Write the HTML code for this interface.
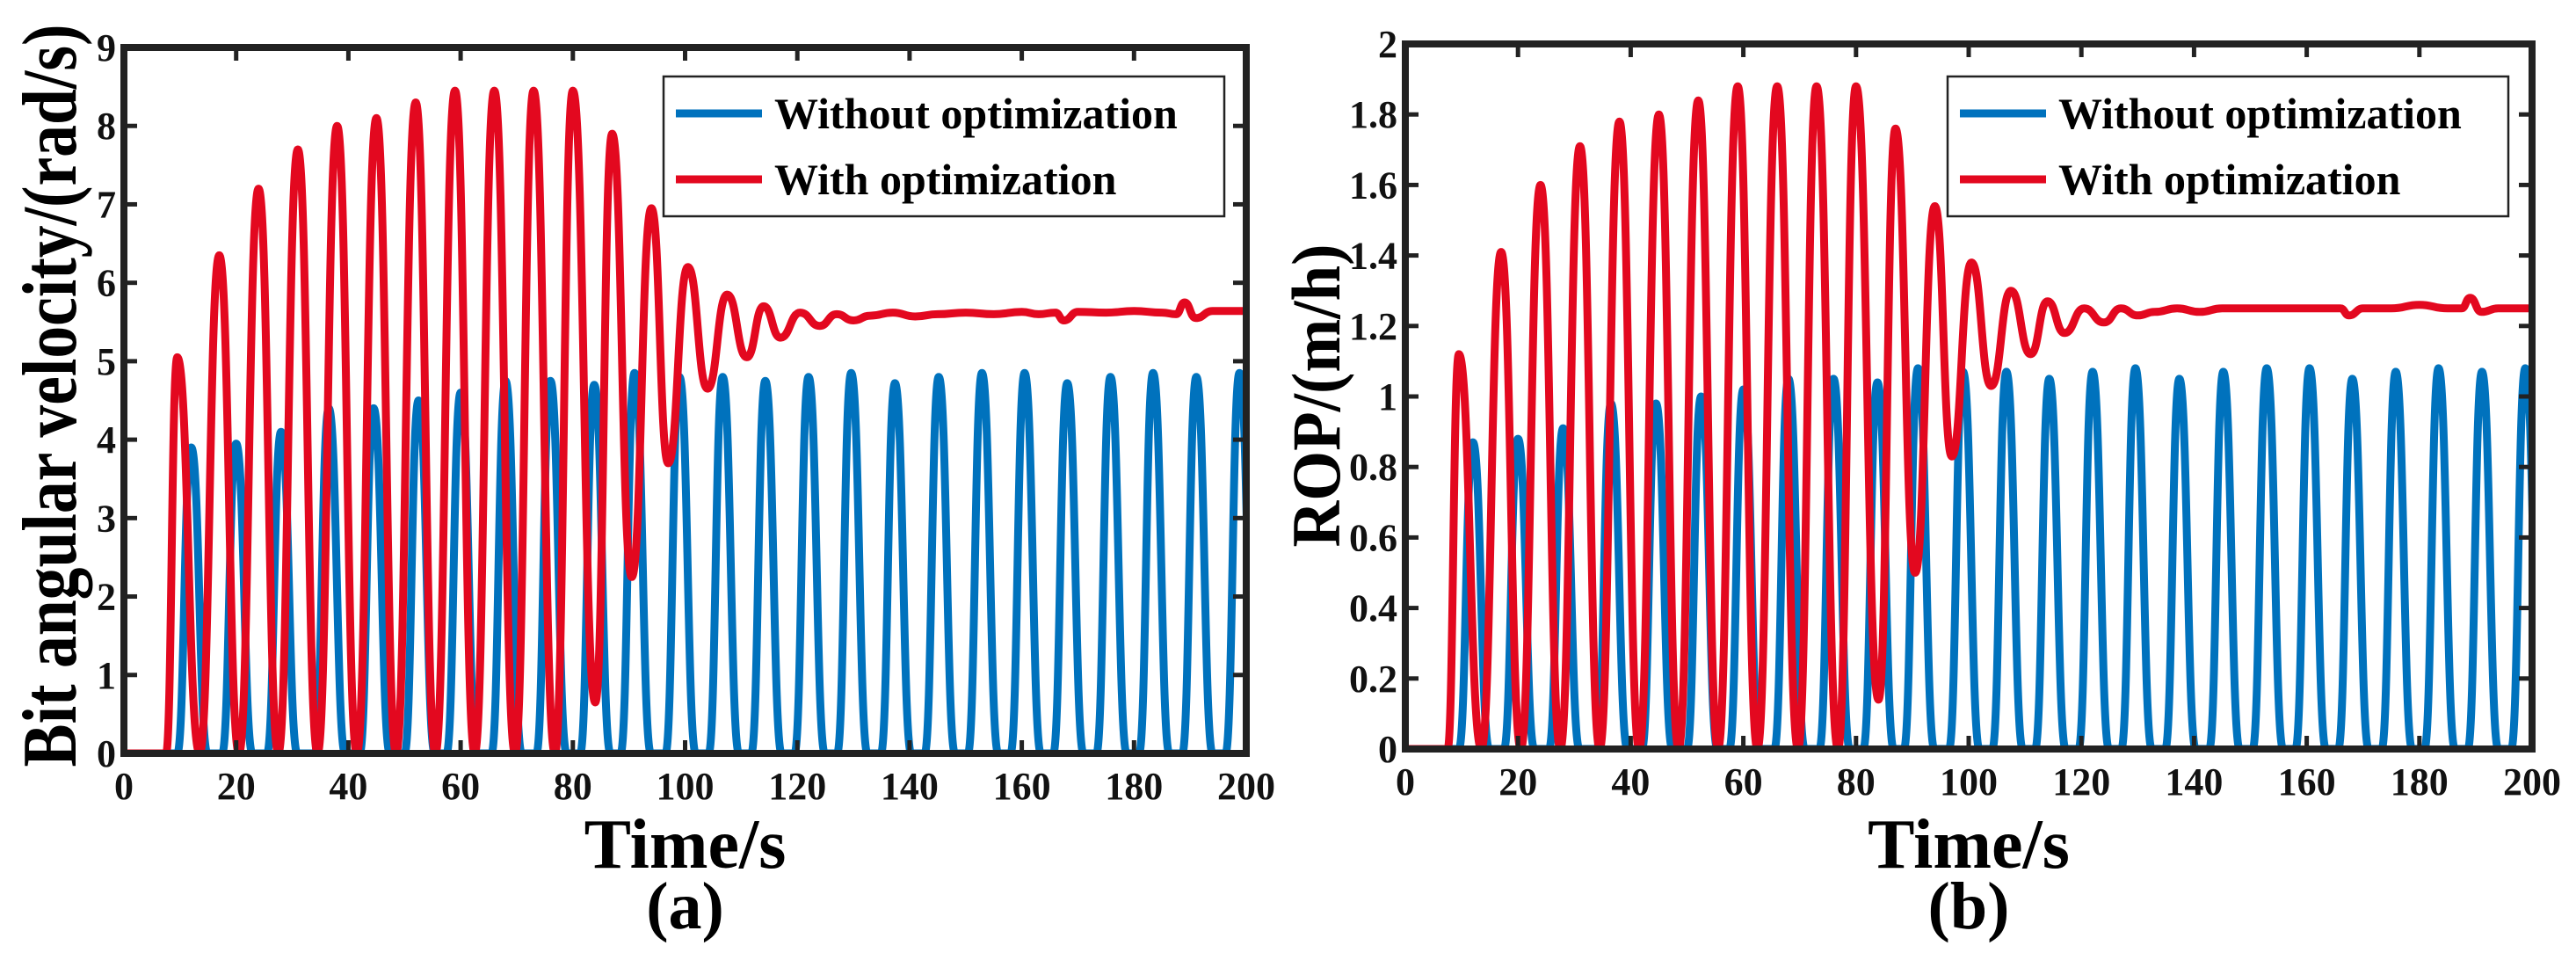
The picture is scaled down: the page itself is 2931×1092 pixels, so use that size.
<!DOCTYPE html>
<html><head><meta charset="utf-8"><style>
html,body{margin:0;padding:0;background:#fff;}
svg{display:block;font-family:"Liberation Serif",serif;font-weight:bold;}
</style></head><body>
<svg id="fig" width="2931" height="1092" viewBox="0 0 2931 1092" xmlns="http://www.w3.org/2000/svg"></svg>
<script>
// ---- data: panel (a) bit angular velocity ----
const aRedT = [0,7.5,9.5,13.5,17,20.5,24,27.5,31,34.5,38,41.5,45,48.5,52,55.5,59,62.5,66,69.7,73,76.8,80,84,87,90.5,94,97,100.5,104,107.5,111,114,117,120.5,124,127,130,133,137,141,145,150,155,160,163,166,167.5,170,175,180,185,187.5,189,191,194,200];
const aRedV = [0,0,5.05,0,6.35,0,7.2,0,7.7,0,8.0,0,8.1,0,8.3,0,8.45,0,8.45,0,8.45,0,8.45,0.65,7.9,2.25,6.95,3.7,6.2,4.65,5.85,5.05,5.7,5.3,5.62,5.45,5.6,5.52,5.58,5.62,5.57,5.6,5.62,5.6,5.63,5.6,5.62,5.52,5.63,5.62,5.64,5.62,5.6,5.75,5.55,5.64,5.64];
const blueT = [12,20,28,36.5,44.5,52.5,60,68,76,83.8,91,99,106.7,114.3,122,129.6,137.4,145.2,152.9,160.5,168.1,175.8,183.4,191.1,198.8];
const aBlueV = [3.9,3.95,4.1,4.4,4.4,4.5,4.6,4.75,4.75,4.7,4.85,4.8,4.8,4.75,4.8,4.85,4.72,4.8,4.85,4.85,4.72,4.8,4.85,4.8,4.85];
const aTicksY = ["0","1","2","3","4","5","6","7","8","9"];
const aTickVals = [0,1,2,3,4,5,6,7,8,9];
// ---- data: panel (b) ROP ----
const bRedT = aRedT.slice();
const bRedV = [0,0,1.12,0,1.41,0,1.60,0,1.71,0,1.78,0,1.80,0,1.84,0,1.88,0,1.88,0,1.88,0,1.88,0.14,1.76,0.50,1.54,0.83,1.38,1.03,1.30,1.12,1.27,1.18,1.25,1.21,1.25,1.23,1.24,1.25,1.24,1.25,1.25,1.25,1.25,1.25,1.25,1.23,1.25,1.25,1.26,1.25,1.25,1.28,1.24,1.25,1.25];
const bBlueV = [0.87,0.88,0.91,0.98,0.98,1.0,1.02,1.05,1.05,1.04,1.08,1.07,1.07,1.05,1.07,1.08,1.05,1.07,1.08,1.08,1.05,1.07,1.08,1.07,1.08];
const bTicksY = ["0","0.2","0.4","0.6","0.8","1","1.2","1.4","1.6","1.8","2"];
const bTickVals = [0,0.2,0.4,0.6,0.8,1,1.2,1.4,1.6,1.8,2];
const xTicks = [0,20,40,60,80,100,120,140,160,180,200];

const NS = "http://www.w3.org/2000/svg";
const svg = document.getElementById('fig');
function mk(tag, attrs, parent, text){
  const e = document.createElementNS(NS, tag);
  for (const k in attrs) e.setAttribute(k, attrs[k]);
  if (text !== undefined) e.textContent = text;
  (parent || svg).appendChild(e);
  return e;
}
function smoothPath(pts, sx, sy){
  let d = 'M' + sx(pts[0][0]).toFixed(1) + ',' + sy(pts[0][1]).toFixed(1);
  for (let i = 1; i < pts.length; i++){
    const x0 = sx(pts[i-1][0]), y0 = sy(pts[i-1][1]);
    const x1 = sx(pts[i][0]), y1 = sy(pts[i][1]);
    const mx = (x0 + x1) / 2;
    d += ' C' + mx.toFixed(1) + ',' + y0.toFixed(1) + ' ' + mx.toFixed(1) + ',' + y1.toFixed(1) + ' ' + x1.toFixed(1) + ',' + y1.toFixed(1);
  }
  return d;
}
function panel(cfg){
  const {id, x0, x1, yT, yB, ymax, redT, redV, blueV, tickVals, tickLbl, ytitle, ytx, letter, legX} = cfg;
  const sx = t => x0 + (t / 200) * (x1 - x0);
  const sy = v => yB - (v / ymax) * (yB - yT);
  const g = mk('g', {});
  
  
  const clip = mk('clipPath', {id: 'clip-' + id}, g);
  mk('rect', {x: x0, y: yT, width: x1 - x0, height: yB - yT}, clip);
  const bp = [[0,0]];
  for (let i = 0; i < blueT.length; i++){
    bp.push([blueT[i] - 2.5, 0]); bp.push([blueT[i], blueV[i]]); bp.push([blueT[i] + 2.9, 0]);
  }
  const blue = mk('path', {d: smoothPath(bp, sx, sy), fill: 'none', stroke: '#0072BD', 'stroke-width': 9, 'stroke-linejoin': 'round', 'clip-path': 'url(#clip-' + id + ')'}, g);
  
  
  const rp = redT.map((t, i) => [t, redV[i]]);
  const red = mk('path', {d: smoothPath(rp, sx, sy), fill: 'none', stroke: '#E3081F', 'stroke-width': 9, 'stroke-linejoin': 'round', 'clip-path': 'url(#clip-' + id + ')'}, g);
  
  
  const box = mk('rect', {x: x0, y: yT, width: x1 - x0, height: yB - yT, fill: 'none', stroke: '#222', 'stroke-width': 8}, g);
  
  
  xTicks.forEach(t => {
    const x = sx(t);
    mk('line', {x1: x, y1: yB, x2: x, y2: yB - 15, stroke: '#222', 'stroke-width': 5}, g);
    mk('line', {x1: x, y1: yT, x2: x, y2: yT + 15, stroke: '#222', 'stroke-width': 5}, g);
    const l = mk('text', {x: x, y: yB + 52, 'text-anchor': 'middle', 'font-size': 44, fill: '#111'}, g, String(t));
    
    
  });
  tickVals.forEach((v, i) => {
    const y = sy(v);
    mk('line', {x1: x0, y1: y, x2: x0 + 15, y2: y, stroke: '#222', 'stroke-width': 5}, g);
    mk('line', {x1: x1, y1: y, x2: x1 - 15, y2: y, stroke: '#222', 'stroke-width': 5}, g);
    const l = mk('text', {x: x0 - 9, y: y + 15, 'text-anchor': 'end', 'font-size': 44, fill: '#111'}, g, tickLbl[i]);
    
    
  });
  const lg = mk('g', {}, g);
  
  
  mk('rect', {x: legX, y: 87, width: 638, height: 159, fill: '#fff', stroke: '#222', 'stroke-width': 2.5}, lg);
  mk('line', {x1: legX + 14, y1: 129, x2: legX + 112, y2: 129, stroke: '#0072BD', 'stroke-width': 9}, lg);
  mk('line', {x1: legX + 14, y1: 204, x2: legX + 112, y2: 204, stroke: '#E3081F', 'stroke-width': 9}, lg);
  const t1 = mk('text', {x: legX + 126, y: 146, 'font-size': 50, fill: '#000'}, lg, 'Without optimization');
  
  
  const t2 = mk('text', {x: legX + 126, y: 221, 'font-size': 50, fill: '#000'}, lg, 'With optimization');
  
  
  const cx = (x0 + x1) / 2;
  const xt = mk('text', {x: cx, y: 987, 'text-anchor': 'middle', 'font-size': 80, fill: '#000'}, g, 'Time/s');
  
  
  const lt = mk('text', {x: cx, y: 1056, 'text-anchor': 'middle', 'font-size': 76, fill: '#000'}, g, letter);
  
  
  const yt = mk('text', {x: 0, y: 0, 'text-anchor': 'middle', 'font-size': cfg.yfs, textLength: cfg.ylen, lengthAdjust: 'spacingAndGlyphs', fill: '#000', transform: 'translate(' + ytx + ',' + cfg.ycy + ') rotate(-90)'}, g, ytitle);
  
  
}
panel({id: 'a', x0: 141, x1: 1418, yT: 54, yB: 857, ymax: 9, redT: aRedT, redV: aRedV, blueV: aBlueV,
  tickVals: aTickVals, tickLbl: aTicksY, ytitle: 'Bit angular velocity/(rad/s)', ytx: 86, ycy: 450, yfs: 88, ylen: 845, letter: '(a)', legX: 755});
panel({id: 'b', x0: 1599, x1: 2881, yT: 50, yB: 852, ymax: 2, redT: bRedT, redV: bRedV, blueV: bBlueV,
  tickVals: bTickVals, tickLbl: bTicksY, ytitle: 'ROP/(m/h)', ytx: 1524, ycy: 450, yfs: 78, ylen: 345, letter: '(b)', legX: 2216});
</script>
</body></html>
